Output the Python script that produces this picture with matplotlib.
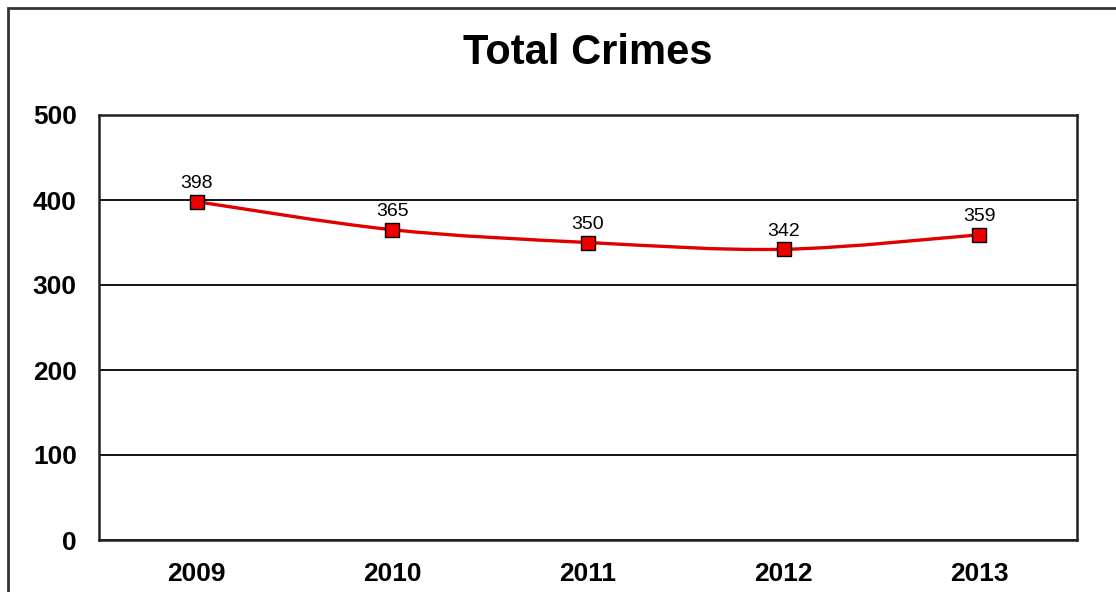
import matplotlib
matplotlib.use("Agg")
import matplotlib.pyplot as plt
from matplotlib.path import Path
from matplotlib.patches import PathPatch, Rectangle
import numpy as np

years = ["2009", "2010", "2011", "2012", "2013"]
crimes = [398, 365, 350, 342, 359]
yticks = [0, 100, 200, 300, 400, 500]
title = "Total Crimes"

plt.rcParams['font.family'] = ['Liberation Sans', 'DejaVu Sans']

fig = plt.figure(figsize=(11.16, 5.92), dpi=100)
W, H = 1116, 592
ax = fig.add_axes([99 / W, (H - 540) / H, 978 / W, 425 / H])

x = np.arange(len(years))
y = np.array(crimes, dtype=float)

# smoothed line (Excel-style Bezier through the data points)
verts = [(x[0], y[0])]
codes = [Path.MOVETO]
n = len(x)
for i in range(n - 1):
    p0 = np.array([x[max(i - 1, 0)], y[max(i - 1, 0)]])
    p1 = np.array([x[i], y[i]])
    p2 = np.array([x[i + 1], y[i + 1]])
    p3 = np.array([x[min(i + 2, n - 1)], y[min(i + 2, n - 1)]])
    c1 = p1 + (p2 - p0) / 6
    c2 = p2 - (p3 - p1) / 6
    verts += [tuple(c1), tuple(c2), tuple(p2)]
    codes += [Path.CURVE4] * 3
ax.add_patch(PathPatch(Path(verts, codes), facecolor='none', edgecolor='#e00000',
                       linewidth=2.4, zorder=3))
ax.plot(x, y, linestyle='none', marker='s', markersize=10.5, markerfacecolor='#ee0000',
        markeredgecolor='black', markeredgewidth=1.0, zorder=4)

for xi, yi in zip(x, y):
    ax.annotate(f"{int(yi)}", (xi, yi), xytext=(0, 7), textcoords='offset points',
                ha='center', va='bottom', fontsize=14, color='black', zorder=5)

ax.set_xlim(-0.5, len(years) - 0.5)
ax.set_ylim(0, 500)
ax.set_yticks(yticks)
ax.set_yticklabels([str(t) for t in yticks], fontsize=19, fontweight='bold')
ax.set_xticks(x)
ax.set_xticklabels(years, fontsize=19, fontweight='bold')
ax.tick_params(axis='both', length=0)
ax.tick_params(axis='y', pad=16)
ax.tick_params(axis='x', pad=16)
ax.yaxis.grid(True, color='black', linewidth=1.3)
ax.set_axisbelow(True)
for s in ax.spines.values():
    s.set_linewidth(1.8)
    s.set_color('#222222')

fig.text(588 / W, 1 - 53 / H, title, ha='center', va='center', fontsize=30,
         fontweight='bold')

fig.patches.append(Rectangle((8 / W, -0.1), 1.2, 1 - 8 / H + 0.1, transform=fig.transFigure,
                             fill=False, edgecolor='#333333', linewidth=2, figure=fig))

fig.savefig("out.png", dpi=100)
